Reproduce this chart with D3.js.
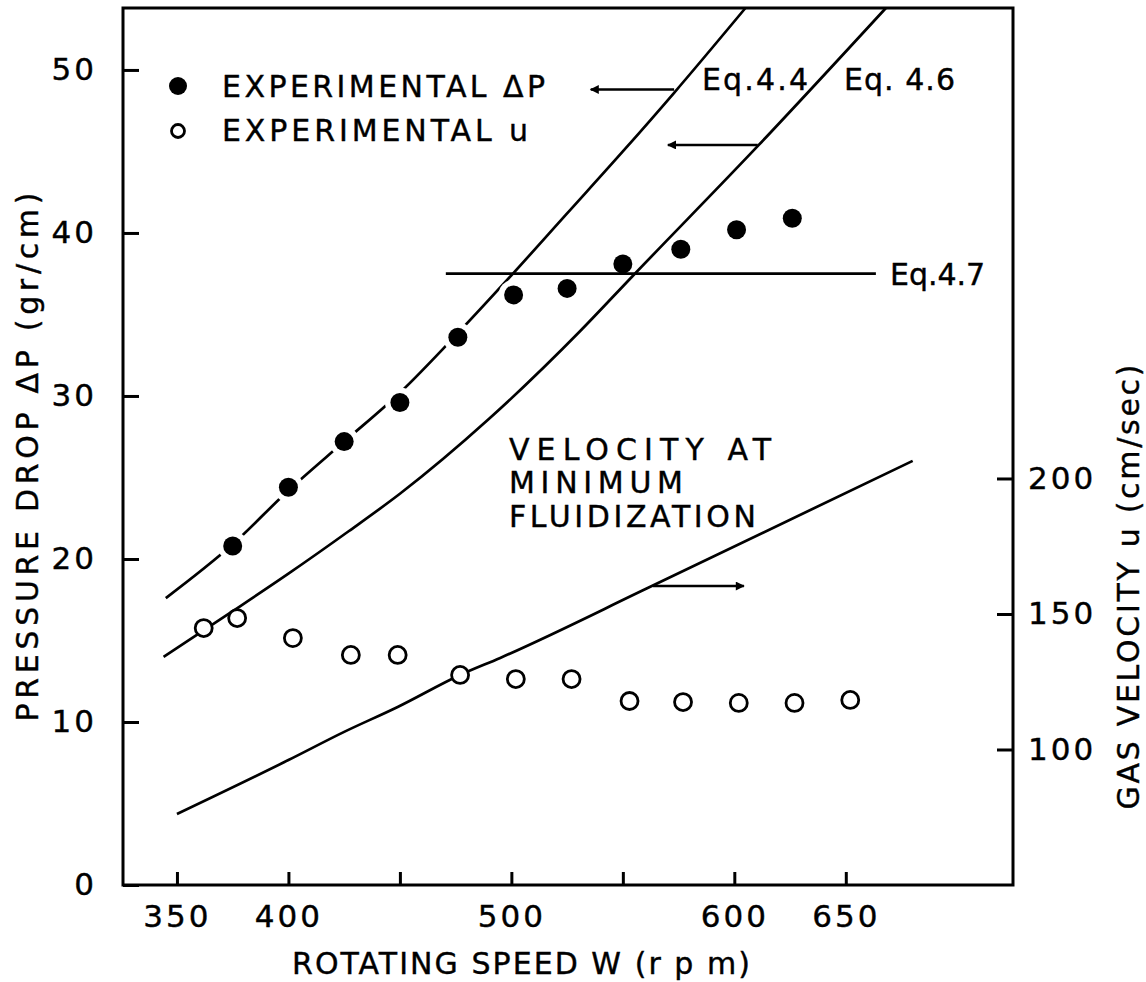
<!DOCTYPE html>
<html>
<head>
<meta charset="utf-8">
<script src="https://cdn.jsdelivr.net/npm/d3@7"></script>
<style>
  body { margin: 0; background: #fff; }
  text { font-family: "DejaVu Sans", sans-serif; fill: #000; stroke: #000; stroke-width: 0.4px; }
  .tick text { font-size: 31px; letter-spacing: 3px; }
  .lbl { font-size: 30px; }
</style>
</head>
<body>
<div id="chart"></div>
<script>
// chart data
var rpmTicks = [350, 400, 450, 500, 550, 600, 650];
var rpmLabels = [350, 400, 500, 600, 650];
var dpTicks = [0, 10, 20, 30, 40, 50];
var uTicks = [100, 150, 200];

// experimental pressure drop (filled)
var dpRpm = [375, 400, 425, 450, 476, 501, 525, 550, 576, 601, 626];
var dpExp = [20.8, 24.4, 27.2, 29.6, 33.6, 36.2, 36.6, 38.1, 39.0, 40.2, 40.9];

// experimental gas velocity (open)
var uRpm = [362, 377, 402, 428, 449, 477, 502, 527, 553, 577, 602, 627, 652];
var uExp = [144.8, 148.5, 141.1, 134.9, 134.9, 127.5, 126.0, 126.0, 117.9, 117.5, 117.2, 117.2, 118.3];

// Eq.4.4 curve
var eq44Rpm = [345, 375, 400, 425, 450, 477, 500, 525, 550, 573, 605];
var eq44Dp = [17.6, 20.9, 24.2, 27.2, 30.2, 34.0, 37.4, 41.2, 45.0, 48.6, 53.8];

// Eq.4.6 curve
var eq46Rpm = [344, 375, 400, 427, 450, 490, 531, 554, 611, 668];
var eq46Dp = [14.0, 16.8, 19.1, 21.7, 24.0, 28.6, 34.0, 37.3, 45.4, 53.8];

// Eq.4.7 horizontal line
var eq47Rpm = [470.6, 663.5];
var eq47Dp = [37.5, 37.5];

// minimum fluidization velocity line
var velRpm = [350, 400, 425, 449, 477, 495, 563, 680];
var velU = [76.2, 96.1, 106.5, 115.7, 127.5, 133.8, 160.3, 206.5];

// arrows: [from rpm, to rpm, level]
var eq44Arrow = [573, 535.6, 48.8];
var eq46Arrow = [610.5, 570.2, 45.4];
var velArrow = [563.5, 604.3, 160.3];

//SVG size and margins
var svgWidth = 1146;
var svgHeight = 982;
var margin = { top: 8, right: 133, bottom: 97, left: 123 };
var width = svgWidth - margin.left - margin.right;
var height = svgHeight - margin.top - margin.bottom;

var svg = d3.select("#chart")
  .append("svg")
  .attr("width", svgWidth)
  .attr("height", svgHeight);

svg.append("defs").append("marker")
  .attr("id", "head")
  .attr("viewBox", "0 0 10 10")
  .attr("refX", 9)
  .attr("refY", 5)
  .attr("markerUnits", "userSpaceOnUse")
  .attr("markerWidth", 17)
  .attr("markerHeight", 9)
  .attr("orient", "auto")
  .append("path")
  .attr("d", "M0,0 L10,5 L0,10 Z")
  .attr("fill", "#000");

var chartGroup = svg.append("g")
  .attr("transform", `translate(${margin.left}, ${margin.top})`);

// scales
var x = d3.scaleLinear().domain([325.8, 725]).range([0, width]);
var yDp = d3.scaleLinear().domain([0, 53.8]).range([height, 0]);
var yU = d3.scaleLinear().domain([50, 373.6]).range([height, 0]);

// axes
var bottomAxis = d3.axisBottom(x)
  .tickValues(rpmTicks)
  .tickSizeInner(-13)
  .tickSizeOuter(0)
  .tickPadding(20)
  .tickFormat(d => rpmLabels.includes(d) ? d : "");

var leftAxis = d3.axisLeft(yDp)
  .tickValues(dpTicks)
  .tickSizeInner(-16)
  .tickSizeOuter(0)
  .tickPadding(26);

var rightAxis = d3.axisRight(yU)
  .tickValues(uTicks)
  .tickSizeInner(-16)
  .tickSizeOuter(0)
  .tickPadding(15);

chartGroup.append("g")
  .attr("transform", `translate(0, ${height})`)
  .call(bottomAxis);

chartGroup.append("g")
  .call(leftAxis);

chartGroup.append("g")
  .attr("transform", `translate(${width}, 0)`)
  .call(rightAxis);

chartGroup.selectAll(".domain").remove();
chartGroup.selectAll(".tick line").attr("stroke", "#000").attr("stroke-width", 3);
chartGroup.selectAll(".tick text").attr("fill", "#000");

// frame
chartGroup.append("rect")
  .attr("width", width)
  .attr("height", height)
  .attr("fill", "none")
  .attr("stroke", "#000")
  .attr("stroke-width", 3);

// curves
var lineDp = d3.line()
  .x(d => x(d[0]))
  .y(d => yDp(d[1]))
  .curve(d3.curveMonotoneX);

var lineU = d3.line()
  .x(d => x(d[0]))
  .y(d => yU(d[1]))
  .curve(d3.curveMonotoneX);

chartGroup.append("path")
  .datum(d3.zip(eq44Rpm, eq44Dp))
  .attr("d", lineDp)
  .attr("fill", "none")
  .attr("stroke", "#000")
  .attr("stroke-width", 2.7);

// gaps in the Eq.4.4 line around the points it runs through
chartGroup.selectAll(".gap")
  .data(d3.zip(dpRpm, dpExp).filter(d => d[0] <= 501))
  .enter()
  .append("circle")
  .attr("cx", d => x(d[0]))
  .attr("cy", d => yDp(d[1]))
  .attr("r", 15)
  .attr("fill", "#fff");

chartGroup.append("path")
  .datum(d3.zip(eq46Rpm, eq46Dp))
  .attr("d", lineDp)
  .attr("fill", "none")
  .attr("stroke", "#000")
  .attr("stroke-width", 2.7);

chartGroup.append("path")
  .datum(d3.zip(eq47Rpm, eq47Dp))
  .attr("d", lineDp)
  .attr("fill", "none")
  .attr("stroke", "#000")
  .attr("stroke-width", 2.7);

chartGroup.append("path")
  .datum(d3.zip(velRpm, velU))
  .attr("d", lineU)
  .attr("fill", "none")
  .attr("stroke", "#000")
  .attr("stroke-width", 2.7);

// arrows
function arrow(a, scale) {
  chartGroup.append("line")
    .attr("x1", x(a[0]))
    .attr("x2", x(a[1]))
    .attr("y1", scale(a[2]))
    .attr("y2", scale(a[2]))
    .attr("stroke", "#000")
    .attr("stroke-width", 2.5)
    .attr("marker-end", "url(#head)");
}
arrow(eq44Arrow, yDp);
arrow(eq46Arrow, yDp);
arrow(velArrow, yU);

// points
chartGroup.selectAll(".dp")
  .data(d3.zip(dpRpm, dpExp))
  .enter()
  .append("circle")
  .attr("cx", d => x(d[0]))
  .attr("cy", d => yDp(d[1]))
  .attr("r", 9.5)
  .attr("fill", "#000");

chartGroup.selectAll(".u")
  .data(d3.zip(uRpm, uExp))
  .enter()
  .append("circle")
  .attr("cx", d => x(d[0]))
  .attr("cy", d => yU(d[1]))
  .attr("r", 8.5)
  .attr("fill", "#fff")
  .attr("stroke", "#000")
  .attr("stroke-width", 2.8);

// legend
svg.append("circle").attr("cx", 178).attr("cy", 86).attr("r", 9).attr("fill", "#000");
svg.append("circle").attr("cx", 178).attr("cy", 131).attr("r", 6.5)
  .attr("fill", "#fff").attr("stroke", "#000").attr("stroke-width", 2.8);

function label(txt, xPos, yPos, len) {
  return svg.append("text")
    .attr("class", "lbl")
    .attr("x", xPos)
    .attr("y", yPos)
    .attr("textLength", len)
    .attr("lengthAdjust", "spacing")
    .text(txt);
}

label("EXPERIMENTAL \u0394P", 222, 97, 323);
label("EXPERIMENTAL  u", 222, 141, 306);
label("Eq.4.4", 702, 90, 106);
label("Eq. 4.6", 844, 90, 111);
label("Eq.4.7", 890, 285, 95);
label("VELOCITY AT", 509, 460, 262);
label("MINIMUM", 509, 493, 174);
label("FLUIDIZATION", 509, 527, 247);

// axis titles
label("ROTATING SPEED W  (r p m)", 292, 974, 458);

svg.append("text")
  .attr("class", "lbl")
  .attr("transform", "translate(38, 457) rotate(-90)")
  .attr("text-anchor", "middle")
  .attr("textLength", 529)
  .attr("lengthAdjust", "spacing")
  .text("PRESSURE DROP  \u0394P  (gr/cm)");

svg.append("text")
  .attr("class", "lbl")
  .attr("transform", "translate(1139, 587) rotate(-90)")
  .attr("text-anchor", "middle")
  .attr("textLength", 445)
  .attr("lengthAdjust", "spacing")
  .text("GAS VELOCITY  u (cm/sec)");
</script>
</body>
</html>
